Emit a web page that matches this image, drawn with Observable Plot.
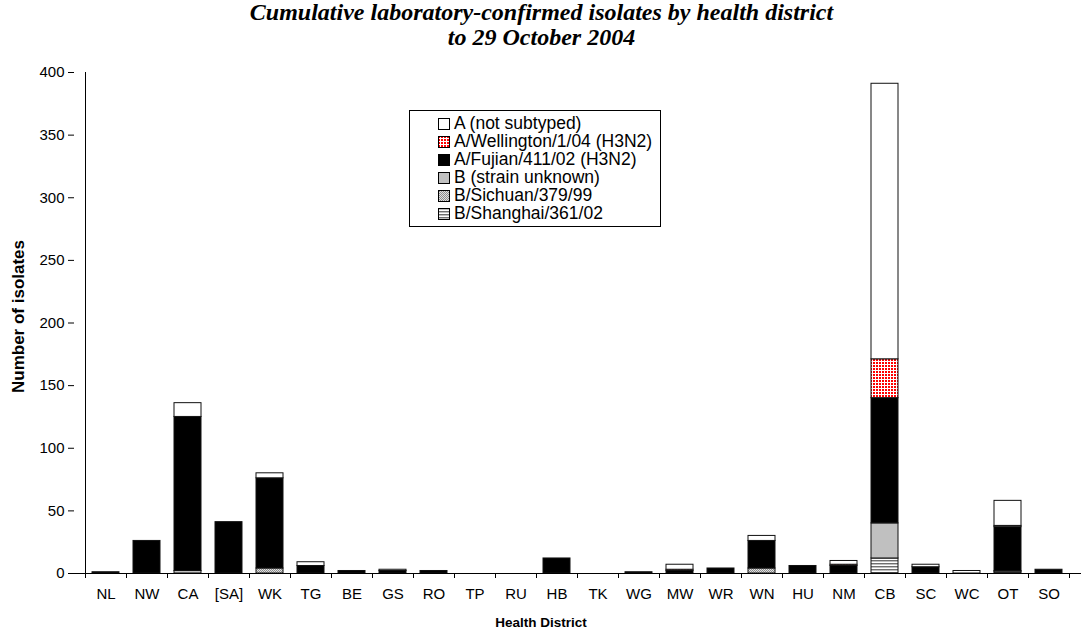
<!DOCTYPE html>
<html>
<head>
<meta charset="utf-8">
<script src="https://cdn.jsdelivr.net/npm/d3@7"></script>
<script src="https://cdn.jsdelivr.net/npm/@observablehq/plot@0.6"></script>
<style>
  body { margin: 0; background: #fff; font-family: "Liberation Sans", Arial, sans-serif; }
  #wrap { position: relative; width: 1083px; height: 637px; }
  #title { position: absolute; left: 0; top: 0px; width: 1083px; text-align: center;
    font-family: "Liberation Serif", "Times New Roman", serif; font-weight: bold; font-style: italic;
    font-size: 24px; line-height: 25px; }
  #chart { position: absolute; left: 0; top: 50px; }
  #legend { position: absolute; left: 409px; top: 110px; height: 115px; padding-right: 8px;
    border: 1px solid #000; background: #fff; font-size: 17.5px; }
  .item { position: relative; margin-left: 28px; height: 18px; line-height: 18px; white-space: nowrap; }
  .item:first-child { margin-top: 3px; }
  .sw { display: inline-block; width: 12px; height: 12px; vertical-align: -1px; margin-right: 4px; }
</style>
</head>
<body>
<svg width="0" height="0" style="position:absolute">
  <defs>
    <pattern id="pWell" width="3" height="3" patternUnits="userSpaceOnUse">
      <rect width="3" height="3" fill="#ff0000"/>
      <rect x="2" width="1" height="3" fill="#ffffff"/>
      <rect y="2" width="3" height="1" fill="#ffffff"/>
    </pattern>
    <pattern id="pSich" width="2" height="2" patternUnits="userSpaceOnUse">
      <rect width="2" height="2" fill="#e0e0e0"/>
      <rect width="1" height="1" fill="#8c8c8c"/>
      <rect x="1" y="1" width="1" height="1" fill="#8c8c8c"/>
    </pattern>
    <pattern id="pShang" width="3" height="3" patternUnits="userSpaceOnUse">
      <rect width="3" height="3" fill="#ffffff"/>
      <rect width="3" height="1" fill="#707070"/>
      <rect y="1" width="3" height="1" fill="#c0c0c0"/>
    </pattern>
  </defs>
</svg>
<div id="wrap">
  <div id="title">Cumulative laboratory-confirmed isolates by health district<br>to 29 October 2004</div>
  <div id="chart"></div>
  <div id="legend"></div>
</div>
<script>
const categories = ["NL","NW","CA","[SA]","WK","TG","BE","GS","RO","TP","RU","HB","TK","WG","MW","WR","WN","HU","NM","CB","SC","WC","OT","SO"];

// series listed bottom-to-top of the stack
const seriesNames = ["B/Shanghai/361/02","B/Sichuan/379/99","B (strain unknown)","A/Fujian/411/02 (H3N2)","A/Wellington/1/04 (H3N2)","A (not subtyped)"];
const seriesFills = ["url(#pShang)","url(#pSich)","#c0c0c0","#000000","url(#pWell)","#ffffff"];

const shanghai    = [0,0,0,0,0,0,0,0,0,0,0,0,0,0,0,0,0,0,0,12,0,0,1,0];
const sichuan     = [0,0,0,0,4,0,0,0,0,0,0,0,0,0,0,0,4,0,0,0,0,0,0,0];
const bUnknown    = [0,0,2,0,0,0,0,0,0,0,0,0,0,0,0,0,0,0,0,28,0,0,1,0];
const fujian      = [1,26,123,41,72,6,2,2,2,0,0,12,0,1,2,4,22,6,6,100,5,0,35,3];
const wellington  = [0,0,0,0,0,0,0,0,0,0,0,0,0,0,1,0,0,0,1,31,0,0,1,0];
const notSubtyped = [0,0,11,0,4,3,0,1,0,0,0,0,0,0,4,0,4,0,3,220,2,2,20,0];

const yTicks = [0,50,100,150,200,250,300,350,400];

const seriesValues = [shanghai, sichuan, bUnknown, fujian, wellington, notSubtyped];
const rows = [];
seriesNames.forEach((s, si) => {
  categories.forEach((c, ci) => {
    const v = seriesValues[si][ci];
    if (v > 0) rows.push({district: c, series: s, value: v});
  });
});

const plot = Plot.plot({
  width: 1083,
  height: 587,
  marginTop: 22,
  marginBottom: 64,
  marginLeft: 74,
  marginRight: 2,
  style: {fontFamily: "'Liberation Sans', Arial, sans-serif", fontSize: "15px", color: "#000", background: "#fff", overflow: "visible"},
  x: {domain: categories, paddingInner: 0.33, paddingOuter: 0.165, label: null},
  y: {domain: [0, 400], label: null},
  color: {type: "ordinal", domain: seriesNames, range: seriesFills},
  marks: [
    Plot.barY(rows, Plot.stackY({order: null}, {x: "district", y: "value", fill: "series", stroke: "#111", strokeWidth: 1})),
    Plot.ruleY([0], {stroke: "#000", strokeWidth: 1}),
    Plot.axisY({ticks: yTicks, tickSize: 6, tickPadding: 4, fontSize: 15, label: null}),
    Plot.axisX({tickSize: 0, tickPadding: 15, fontSize: 15, label: null})
  ]
});
document.getElementById("chart").appendChild(plot);

// axis line, category-boundary ticks and axis titles placed from Plot's scales
const xs = plot.scale("x"), ys = plot.scale("y");
const step = xs.step !== undefined ? xs.step : xs.bandwidth / (1 - 0.33);
const y0 = ys.apply(0), yTop = ys.apply(400);
const svg = d3.select(plot);
const g = svg.append("g").attr("stroke", "#000").attr("stroke-width", 1);
const xLeft = xs.apply(categories[0]) - step * 0.165;
g.append("line").attr("x1", Math.round(xLeft) + 0.5).attr("x2", Math.round(xLeft) + 0.5).attr("y1", yTop).attr("y2", y0);
for (let i = 0; i <= categories.length; i++) {
  const bx = Math.round(xLeft + i * step) + 0.5;
  g.append("line").attr("x1", bx).attr("x2", bx).attr("y1", y0).attr("y2", y0 + 5);
}
const yMid = (y0 + yTop) / 2 - 6;
svg.append("text").attr("transform", `translate(24,${yMid}) rotate(-90)`)
  .attr("text-anchor", "middle").attr("font-weight", "bold").attr("font-size", 17)
  .attr("fill", "#000").text("Number of isolates");
svg.append("text").attr("x", 541).attr("y", y0 + 54)
  .attr("text-anchor", "middle").attr("font-weight", "bold").attr("font-size", 13.5)
  .attr("fill", "#000").text("Health District");

// legend (top to bottom)
const legendOrder = ["A (not subtyped)","A/Wellington/1/04 (H3N2)","A/Fujian/411/02 (H3N2)","B (strain unknown)","B/Sichuan/379/99","B/Shanghai/361/02"];
const leg = document.getElementById("legend");
legendOrder.forEach((name) => {
  const fill = seriesFills[seriesNames.indexOf(name)];
  const div = document.createElement("div");
  div.className = "item";
  div.innerHTML = `<svg class="sw" width="12" height="12"><rect x="0.5" y="0.5" width="11" height="11" fill="${fill}" stroke="#000"/></svg>`;
  div.appendChild(document.createTextNode(name));
  leg.appendChild(div);
});
</script>
</body>
</html>
